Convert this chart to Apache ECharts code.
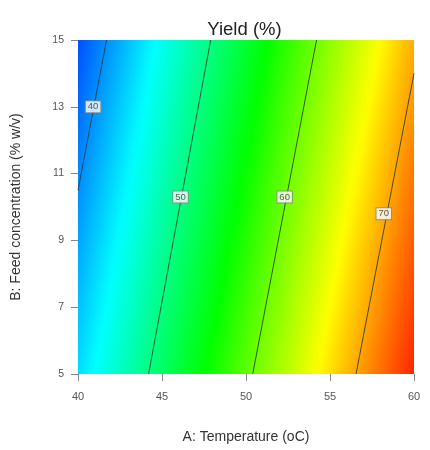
<!DOCTYPE html>
<html>
<head>
<meta charset="utf-8">
<script src="https://cdn.jsdelivr.net/npm/echarts@6/dist/echarts.min.js"></script>
<style>html,body{margin:0;padding:0;background:#fff;}#chart{width:430px;height:450px;}</style>
</head>
<body>
<div id="chart"></div>
<script>
// ---- data ----
const temperatureSteps = [40,41,42,43,44,45,46,47,48,49,50,51,52,53,54,55,56,57,58,59,60];
const feedSteps = [5,6,7,8,9,10,11,12,13,14,15];
// estimated yield (%) at each temperature step, one array per feed concentration
const yieldB5  = [43.3,44.9,46.5,48.1,49.7,51.3,53.0,54.6,56.2,57.8,59.4,61.0,62.6,64.2,65.9,67.5,69.1,70.7,72.3,73.9,75.5];
const yieldB6  = [42.7,44.3,45.9,47.5,49.1,50.7,52.4,54.0,55.6,57.2,58.8,60.4,62.0,63.6,65.3,66.9,68.5,70.1,71.7,73.3,74.9];
const yieldB7  = [42.1,43.7,45.3,46.9,48.5,50.2,51.8,53.4,55.0,56.6,58.2,59.8,61.4,63.1,64.7,66.3,67.9,69.5,71.1,72.7,74.3];
const yieldB8  = [41.5,43.1,44.7,46.3,47.9,49.6,51.2,52.8,54.4,56.0,57.6,59.2,60.8,62.5,64.1,65.7,67.3,68.9,70.5,72.1,73.7];
const yieldB9  = [40.9,42.5,44.1,45.7,47.3,49.0,50.6,52.2,53.8,55.4,57.0,58.6,60.2,61.9,63.5,65.1,66.7,68.3,69.9,71.5,73.1];
const yieldB10 = [40.3,41.9,43.5,45.1,46.7,48.4,50.0,51.6,53.2,54.8,56.4,58.0,59.6,61.3,62.9,64.5,66.1,67.7,69.3,70.9,72.5];
const yieldB11 = [39.7,41.3,42.9,44.5,46.1,47.8,49.4,51.0,52.6,54.2,55.8,57.4,59.1,60.7,62.3,63.9,65.5,67.1,68.7,70.3,72.0];
const yieldB12 = [39.1,40.7,42.3,43.9,45.5,47.2,48.8,50.4,52.0,53.6,55.2,56.8,58.5,60.1,61.7,63.3,64.9,66.5,68.1,69.7,71.4];
const yieldB13 = [38.5,40.1,41.7,43.3,44.9,46.6,48.2,49.8,51.4,53.0,54.6,56.2,57.9,59.5,61.1,62.7,64.3,65.9,67.5,69.1,70.8];
const yieldB14 = [37.9,39.5,41.1,42.7,44.4,46.0,47.6,49.2,50.8,52.4,54.0,55.6,57.3,58.9,60.5,62.1,63.7,65.3,66.9,68.6,70.2];
const yieldB15 = [37.3,38.9,40.5,42.1,43.8,45.4,47.0,48.6,50.2,51.8,53.4,55.0,56.7,58.3,59.9,61.5,63.1,64.7,66.3,68.0,69.6];
const yieldRows = [yieldB5,yieldB6,yieldB7,yieldB8,yieldB9,yieldB10,yieldB11,yieldB12,yieldB13,yieldB14,yieldB15];

// contour lines [temperature, feed] end points
const contour40 = [[41.7, 15], [40.0, 10.5]];
const contour50 = [[47.9, 15], [44.2, 5]];
const contour60 = [[54.2, 15], [50.4, 5]];
const contour70 = [[60.0, 14.0], [56.55, 5]];
const contourLevels = ['40', '50', '60', '70'];
const contourLabelA = [40.9, 46.1, 52.3, 58.2];
const contourLabelB = [13.0, 10.3, 10.3, 9.8];

const xTicks = [40, 45, 50, 55, 60];
const yTicks = [5, 7, 9, 11, 13, 15];

// ---- styling ----
const colorMin = 34, colorMax = 77;
const palette = ['#0000ff', '#00ffff', '#00ff00', '#ffff00', '#ff0000'];
function cmap(v) {
  let t = (v - colorMin) / (colorMax - colorMin);
  t = Math.max(0, Math.min(1, t));
  return echarts.color.lerp(t, palette);
}

// each cell spans between four grid nodes
const cells = [];
for (let j = 0; j < feedSteps.length - 1; j++) {
  for (let i = 0; i < temperatureSteps.length - 1; i++) {
    cells.push([
      temperatureSteps[i], temperatureSteps[i + 1], feedSteps[j], feedSteps[j + 1],
      yieldRows[j][i], yieldRows[j][i + 1], yieldRows[j + 1][i], yieldRows[j + 1][i + 1]
    ]);
  }
}

const labelData = contourLevels.map((t, k) => [contourLabelA[k], contourLabelB[k], t]);

const contourStyle = { color: '#2b3a2b', width: 1, opacity: 0.85 };
function contourSeries(d) {
  return { type: 'line', data: d, symbol: 'none', silent: true, lineStyle: contourStyle, z: 3, animation: false };
}

function renderCell(params, api) {
  const a0 = api.value(0), a1 = api.value(1), b0 = api.value(2), b1 = api.value(3);
  const v00 = api.value(4), v10 = api.value(5), v01 = api.value(6), v11 = api.value(7);
  const pTL = api.coord([a0, b1]);
  const pBR = api.coord([a1, b0]);
  const w = pBR[0] - pTL[0], h = pBR[1] - pTL[1];
  const gx = ((v10 - v00) + (v11 - v01)) / 2 / w;
  const gy = ((v00 - v01) + (v10 - v11)) / 2 / h;
  const vc = (v00 + v10 + v01 + v11) / 4;
  const cx = pTL[0] + w / 2, cy = pTL[1] + h / 2;
  const n = Math.sqrt(gx * gx + gy * gy) || 1e-9;
  const ux = gx / n, uy = gy / n;
  const L = (Math.abs(ux) * w + Math.abs(uy) * h) / 2 + 1;
  const vs = vc - n * L, ve = vc + n * L;
  const stops = [];
  for (let k = 0; k <= 4; k++) stops.push({ offset: k / 4, color: cmap(vs + (ve - vs) * k / 4) });
  return {
    type: 'rect',
    shape: { x: pTL[0], y: pTL[1], width: w + 0.8, height: h + 0.8 },
    style: {
      fill: new echarts.graphic.LinearGradient(cx - ux * L, cy - uy * L, cx + ux * L, cy + uy * L, stops, true)
    }
  };
}

const chart = echarts.init(document.getElementById('chart'), null, { renderer: 'canvas' });
chart.setOption({
  animation: false,
  backgroundColor: '#fff',
  textStyle: { fontFamily: 'Liberation Sans, Arial, sans-serif' },
  title: {
    text: 'Yield (%)', left: 239.5, top: 15, textAlign: 'center',
    textStyle: { fontSize: 18.5, fontWeight: 'normal', color: '#222' }
  },
  grid: { left: 78, top: 40, right: 16, bottom: 76 },
  xAxis: {
    type: 'value', min: 40, max: 60,
    name: 'A: Temperature (oC)', nameLocation: 'middle', nameGap: 56,
    nameTextStyle: { fontSize: 14, color: '#333' },
    axisLine: { show: false },
    axisTick: { show: true, length: 7, customValues: xTicks, lineStyle: { color: '#888' } },
    axisLabel: { customValues: xTicks, fontSize: 11, color: '#555', margin: 17 },
    splitLine: { show: false }
  },
  yAxis: {
    type: 'value', min: 5, max: 15,
    name: 'B: Feed concentration (% w/v)', nameLocation: 'middle', nameGap: 55,
    nameTextStyle: { fontSize: 14, color: '#333' },
    axisLine: { show: false },
    axisTick: { show: true, length: 7, customValues: yTicks, lineStyle: { color: '#888' } },
    axisLabel: { customValues: yTicks, fontSize: 10.5, color: '#555', margin: 14 },
    splitLine: { show: false }
  },
  series: [
    {
      type: 'custom', data: cells, clip: true, silent: true, z: 1,
      encode: { x: [0, 1], y: [2, 3] },
      renderItem: renderCell
    },
    contourSeries(contour40),
    contourSeries(contour50),
    contourSeries(contour60),
    contourSeries(contour70),
    {
      type: 'scatter', data: labelData, symbolSize: 1, z: 5, silent: true,
      itemStyle: { color: 'transparent' },
      label: {
        show: true, position: 'inside',
        formatter: p => p.value[2],
        fontSize: 9.5, color: '#333',
        backgroundColor: '#fff', borderColor: '#888', borderWidth: 1,
        padding: [1, 2, 0, 2]
      }
    }
  ]
});
</script>
</body>
</html>
